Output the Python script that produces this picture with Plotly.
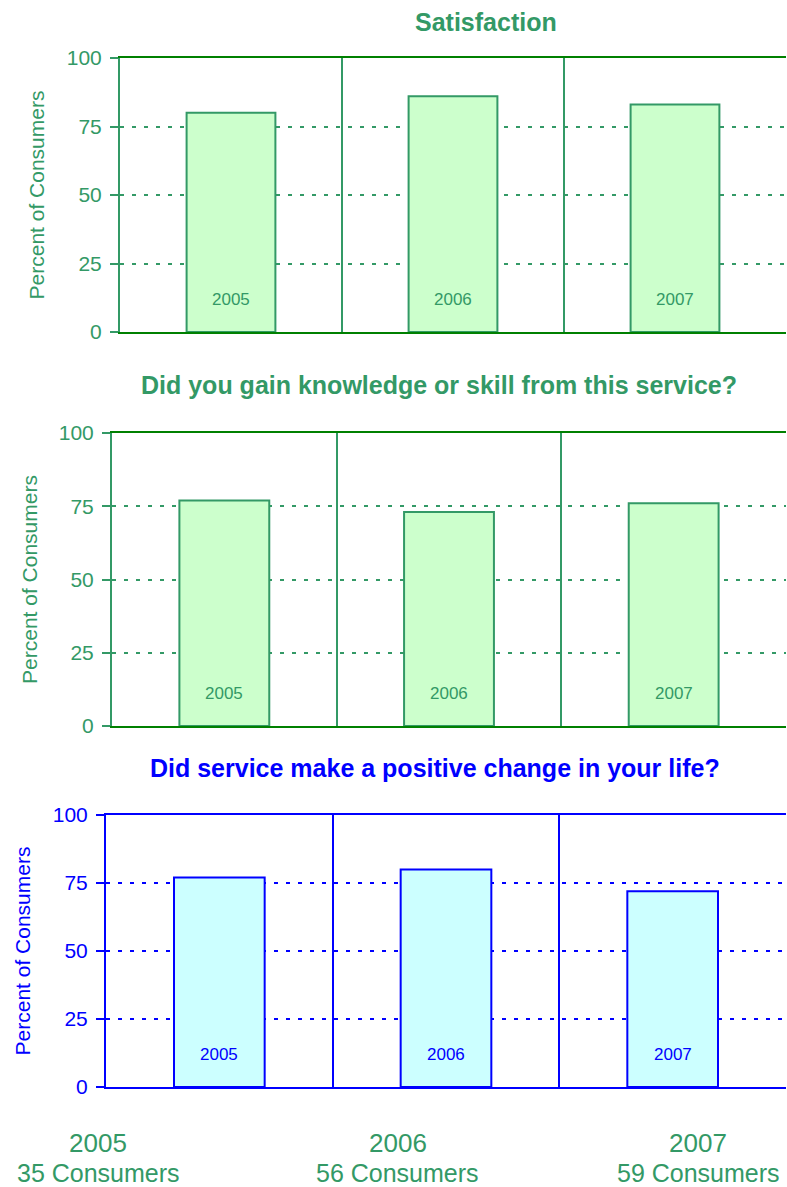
import plotly.graph_objects as go

years = ["2005", "2006", "2007"]
consumers = [35, 56, 59]
titles = ["Satisfaction",
          "Did you gain knowledge or skill from this service?",
          "Did service make a positive change in your life?"]
satisfaction = [80, 86, 83]
knowledge = [77, 73, 76]
positive_change = [77, 80, 72]
series = [satisfaction, knowledge, positive_change]
y_ticks = [0, 25, 50, 75, 100]

GREEN = "#339966"
DGREEN = "#008000"
BLUE = "#0000FF"
FONT = "Liberation Sans, Arial, sans-serif"

W, H = 787, 1187


def px(x):
    return x / W


def py(y):
    return 1 - y / H


# pixel boxes (left, top, bottom) for each panel
boxes = [(120, 58, 332), (112, 433, 726), (106, 815, 1087)]
title_pos = [(486, 22), (439, 385), (435, 768)]
title_std = [16, 15, 16]
styles = [
    dict(text=GREEN, line=GREEN, border=DGREEN, fill="#CCFFCC"),
    dict(text=GREEN, line=GREEN, border=DGREEN, fill="#CCFFCC"),
    dict(text=BLUE, line=BLUE, border=BLUE, fill="#CCFFFF"),
]

fig = go.Figure()
annotations = []
axes = {}
for i, (vals, box, st) in enumerate(zip(series, boxes, styles)):
    n = "" if i == 0 else str(i + 1)
    xa, ya = "x" + n, "y" + n
    fig.add_trace(go.Bar(
        x=years, y=vals, xaxis=xa, yaxis=ya, width=0.4,
        marker=dict(color=st["fill"], line=dict(color=st["line"], width=2)),
        hoverinfo="y", showlegend=False))
    left, top, bottom = box
    axes["xaxis" + n] = dict(
        domain=[px(left), px(786)], anchor=ya, type="category",
        categoryorder="array", categoryarray=years,
        range=[-0.5, len(years) - 0.5],
        showticklabels=False, ticks="", tickson="boundaries",
        showgrid=True, gridcolor=st["line"], gridwidth=2,
        showline=True, linecolor=st["border"], linewidth=2, mirror=True,
        fixedrange=True)
    axes["yaxis" + n] = dict(
        domain=[py(bottom), py(top)], anchor=xa, range=[0, 100],
        tickvals=y_ticks, ticks="outside", ticklen=8, tickwidth=2,
        tickcolor=st["line"], ticklabelstandoff=4,
        tickfont=dict(family=FONT, size=21, color=st["text"]),
        showgrid=True, gridcolor=st["line"], gridwidth=2, griddash="4px,8px",
        showline=True, linecolor=st["line"], linewidth=2,
        zeroline=False, fixedrange=True,
        title=dict(text="Percent of Consumers", standoff=title_std[i],
                   font=dict(family=FONT, size=21, color=st["text"])))
    for k, yr in enumerate(years):
        annotations.append(dict(
            x=k, y=0, xref=xa, yref=ya, yshift=33, text=yr, showarrow=False,
            font=dict(family=FONT, size=17, color=st["text"])))
    tx, ty = title_pos[i]
    annotations.append(dict(
        x=px(tx), y=py(ty), xref="paper", yref="paper",
        text="<b>" + titles[i] + "</b>", showarrow=False,
        xanchor="center", yanchor="middle",
        font=dict(family=FONT, size=25, color=st["text"])))

for k, (yr, c) in enumerate(zip(years, consumers)):
    cx = px(98 + 300 * k)
    annotations.append(dict(
        x=cx, y=py(1143), xref="paper", yref="paper", text=yr,
        showarrow=False, xanchor="center", yanchor="middle",
        font=dict(family=FONT, size=26, color=GREEN)))
    annotations.append(dict(
        x=cx, y=py(1173), xref="paper", yref="paper",
        text=str(c) + " Consumers", showarrow=False,
        xanchor="center", yanchor="middle",
        font=dict(family=FONT, size=25, color=GREEN)))

fig.update_layout(
    width=W, height=H, margin=dict(l=0, r=0, t=0, b=0, autoexpand=False),
    paper_bgcolor="white", plot_bgcolor="white",
    annotations=annotations, **axes)

fig.write_html(
    "out.html",
    config={"displayModeBar": False},
    post_script="document.body.style.margin='0';"
                "document.documentElement.style.overflow='hidden';")
